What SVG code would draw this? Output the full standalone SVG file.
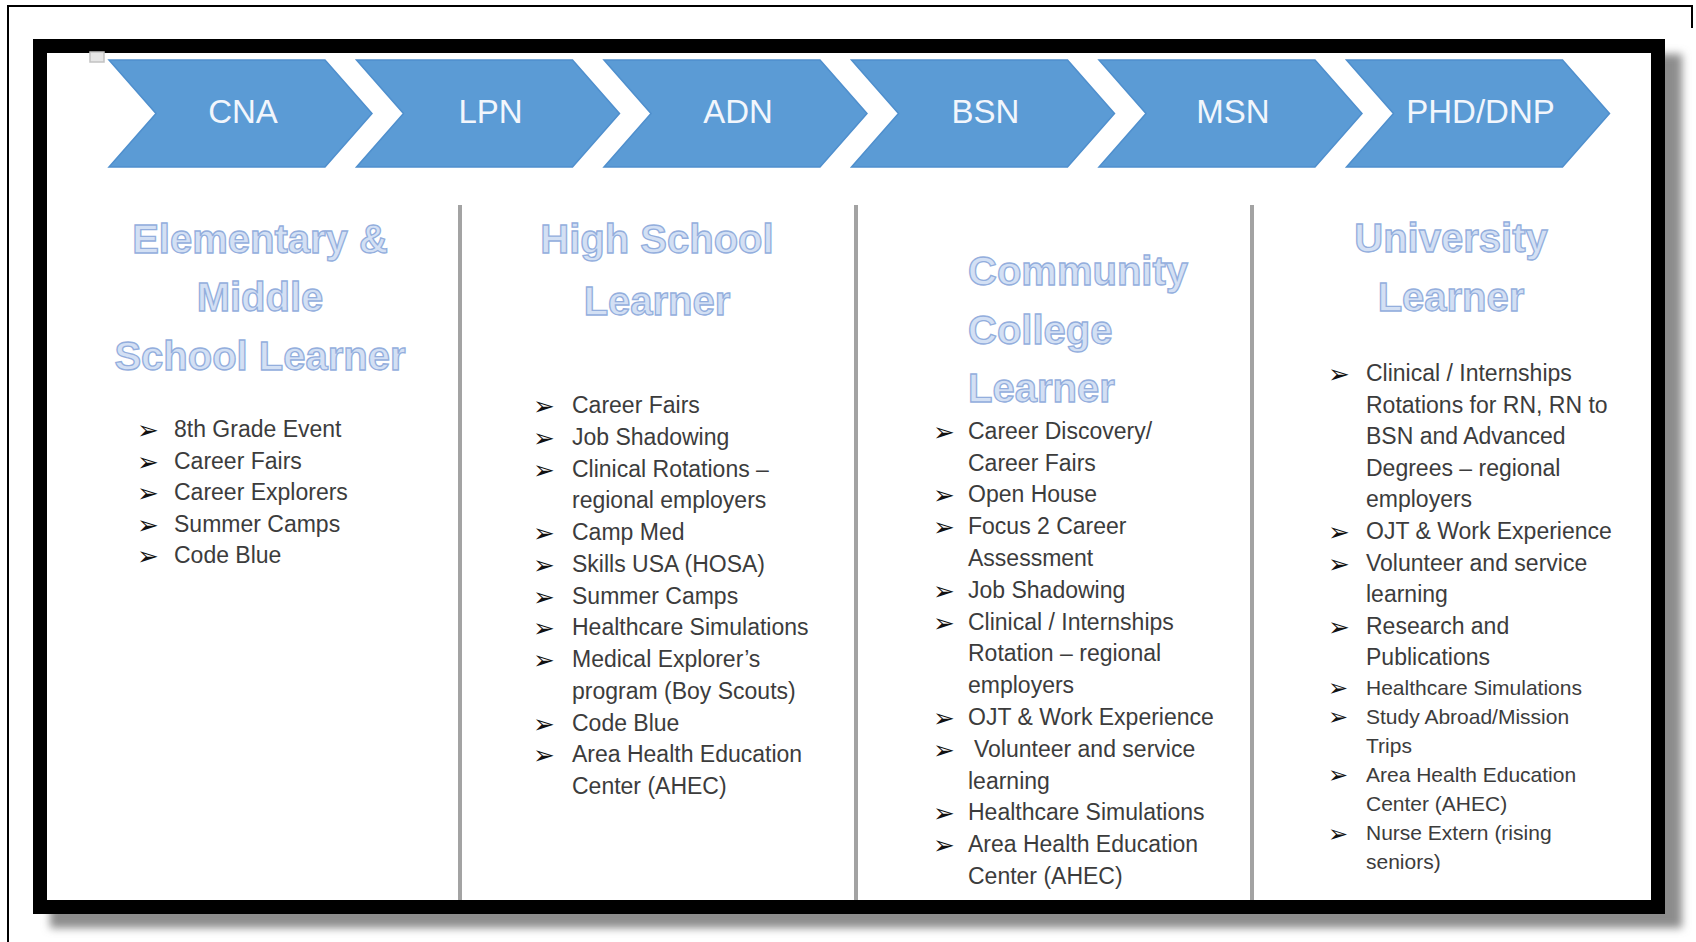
<svg xmlns="http://www.w3.org/2000/svg" width="1696" height="942" viewBox="0 0 1696 942">
<style>
.chev{fill:#5B9BD5;stroke:#4F8FCD;stroke-width:1.5}
.lbl{font-family:"Liberation Sans",Arial,sans-serif;font-size:33px;fill:#F2F6FC;text-anchor:middle}
.hdr{font-family:"Liberation Sans",Arial,sans-serif;font-size:40px;font-weight:bold;fill:#D3E0F4;stroke:#93AEDD;stroke-width:1.3}
.item{font-family:"Liberation Sans",Arial,sans-serif;font-size:23px;fill:#3c3c3c}
.sm{font-size:21px}
.bul{font-family:"DejaVu Sans",sans-serif;font-size:26px;fill:#111}
.bsm{font-size:24px}
.div{stroke:#A3A3A3;stroke-width:4}
</style>
<defs>
<path id="chevron" d="M0,60 H216 L263,113.5 L216,167 H0 L47,113.5 Z"/>
<filter id="sh" x="-5%" y="-5%" width="110%" height="110%"><feGaussianBlur stdDeviation="4"/></filter>
</defs>
<rect width="1696" height="942" fill="#fff"/>
<g id="page-border" fill="none" stroke="#000" stroke-width="2">
<path d="M8,942 V6 H1692 V28"/>
</g>
<g id="frame">
<rect x="50" y="54" width="1632" height="874" fill="#8c8c8c" filter="url(#sh)"/>
<rect x="40" y="46" width="1618" height="861" fill="#fff" stroke="#000" stroke-width="14"/>
<rect x="90" y="52" width="14" height="10" fill="#E6E6E6" stroke="#C2C2C2" stroke-width="1.5"/>
</g>
<g id="stage-cna"><use href="#chevron" class="chev" x="109"/><text class="lbl" x="243" y="123">CNA</text></g>
<g id="stage-lpn"><use href="#chevron" class="chev" x="356.5"/><text class="lbl" x="490.5" y="123">LPN</text></g>
<g id="stage-adn"><use href="#chevron" class="chev" x="604"/><text class="lbl" x="738" y="123">ADN</text></g>
<g id="stage-bsn"><use href="#chevron" class="chev" x="851.5"/><text class="lbl" x="985.5" y="123">BSN</text></g>
<g id="stage-msn"><use href="#chevron" class="chev" x="1099"/><text class="lbl" x="1233" y="123">MSN</text></g>
<g id="stage-phd"><use href="#chevron" class="chev" x="1346.5"/><text class="lbl" x="1480.5" y="123">PHD/DNP</text></g>
<g id="dividers">
<line class="div" x1="460" y1="205" x2="460" y2="900"/>
<line class="div" x1="856" y1="205" x2="856" y2="900"/>
<line class="div" x1="1252" y1="205" x2="1252" y2="900"/>
</g>
<g id="col-elementary">
<text class="hdr" text-anchor="middle"><tspan x="260" y="253">Elementary &amp;</tspan><tspan x="260" y="311">Middle</tspan><tspan x="260" y="370">School Learner</tspan></text>
<text class="bul"><tspan x="137" y="439">➢</tspan><tspan x="137" y="470.5">➢</tspan><tspan x="137" y="502">➢</tspan><tspan x="137" y="533.5">➢</tspan><tspan x="137" y="565">➢</tspan></text>
<text class="item"><tspan x="174" y="437">8th Grade Event</tspan><tspan x="174" y="468.5">Career Fairs</tspan><tspan x="174" y="500">Career Explorers</tspan><tspan x="174" y="531.5">Summer Camps</tspan><tspan x="174" y="563">Code Blue</tspan></text>
</g>
<g id="col-highschool">
<text class="hdr" text-anchor="middle"><tspan x="657" y="253">High School</tspan><tspan x="657" y="315">Learner</tspan></text>
<text class="bul"><tspan x="533" y="415">➢</tspan><tspan x="533" y="446.75">➢</tspan><tspan x="533" y="478.5">➢</tspan><tspan x="533" y="542">➢</tspan><tspan x="533" y="573.75">➢</tspan><tspan x="533" y="605.5">➢</tspan><tspan x="533" y="637.25">➢</tspan><tspan x="533" y="669">➢</tspan><tspan x="533" y="732.5">➢</tspan><tspan x="533" y="764.25">➢</tspan></text>
<text class="item"><tspan x="572" y="413">Career Fairs</tspan><tspan x="572" y="444.75">Job Shadowing</tspan><tspan x="572" y="476.5">Clinical Rotations –</tspan><tspan x="572" y="508.25">regional employers</tspan><tspan x="572" y="540">Camp Med</tspan><tspan x="572" y="571.75">Skills USA (HOSA)</tspan><tspan x="572" y="603.5">Summer Camps</tspan><tspan x="572" y="635.25">Healthcare Simulations</tspan><tspan x="572" y="667">Medical Explorer’s</tspan><tspan x="572" y="698.75">program (Boy Scouts)</tspan><tspan x="572" y="730.5">Code Blue</tspan><tspan x="572" y="762.25">Area Health Education</tspan><tspan x="572" y="794">Center (AHEC)</tspan></text>
</g>
<g id="col-community">
<text class="hdr"><tspan x="968" y="285">Community</tspan><tspan x="968" y="344">College</tspan><tspan x="968" y="402">Learner</tspan></text>
<text class="bul"><tspan x="933" y="440.7">➢</tspan><tspan x="933" y="504.3">➢</tspan><tspan x="933" y="536.1">➢</tspan><tspan x="933" y="599.7">➢</tspan><tspan x="933" y="631.5">➢</tspan><tspan x="933" y="726.9">➢</tspan><tspan x="933" y="758.7">➢</tspan><tspan x="933" y="822.3">➢</tspan><tspan x="933" y="854.1">➢</tspan></text>
<text class="item"><tspan x="968" y="438.7">Career Discovery/</tspan><tspan x="968" y="470.5">Career Fairs</tspan><tspan x="968" y="502.3">Open House</tspan><tspan x="968" y="534.1">Focus 2 Career</tspan><tspan x="968" y="565.9">Assessment</tspan><tspan x="968" y="597.7">Job Shadowing</tspan><tspan x="968" y="629.5">Clinical / Internships</tspan><tspan x="968" y="661.3">Rotation – regional</tspan><tspan x="968" y="693.1">employers</tspan><tspan x="968" y="724.9">OJT &amp; Work Experience</tspan><tspan x="974" y="756.7">Volunteer and service</tspan><tspan x="968" y="788.5">learning</tspan><tspan x="968" y="820.3">Healthcare Simulations</tspan><tspan x="968" y="852.1">Area Health Education</tspan><tspan x="968" y="883.9">Center (AHEC)</tspan></text>
</g>
<g id="col-university">
<text class="hdr" text-anchor="middle"><tspan x="1451" y="252">University</tspan><tspan x="1451" y="311">Learner</tspan></text>
<text class="bul"><tspan x="1328" y="383">➢</tspan><tspan x="1328" y="541">➢</tspan><tspan x="1328" y="572.6">➢</tspan><tspan x="1328" y="635.8">➢</tspan></text>
<text class="bul bsm"><tspan x="1328" y="696">➢</tspan><tspan x="1328" y="725.1">➢</tspan><tspan x="1328" y="783.3">➢</tspan><tspan x="1328" y="841.5">➢</tspan></text>
<text class="item"><tspan x="1366" y="381">Clinical / Internships</tspan><tspan x="1366" y="412.6">Rotations for RN, RN to</tspan><tspan x="1366" y="444.2">BSN and Advanced</tspan><tspan x="1366" y="475.8">Degrees – regional</tspan><tspan x="1366" y="507.4">employers</tspan><tspan x="1366" y="539">OJT &amp; Work Experience</tspan><tspan x="1366" y="570.6">Volunteer and service</tspan><tspan x="1366" y="602.2">learning</tspan><tspan x="1366" y="633.8">Research and</tspan><tspan x="1366" y="665.4">Publications</tspan></text>
<text class="item sm"><tspan x="1366" y="694.5">Healthcare Simulations</tspan><tspan x="1366" y="723.6">Study Abroad/Mission</tspan><tspan x="1366" y="752.7">Trips</tspan><tspan x="1366" y="781.8">Area Health Education</tspan><tspan x="1366" y="810.9">Center (AHEC)</tspan><tspan x="1366" y="840">Nurse Extern (rising</tspan><tspan x="1366" y="869.1">seniors)</tspan></text>
</g>
</svg>
